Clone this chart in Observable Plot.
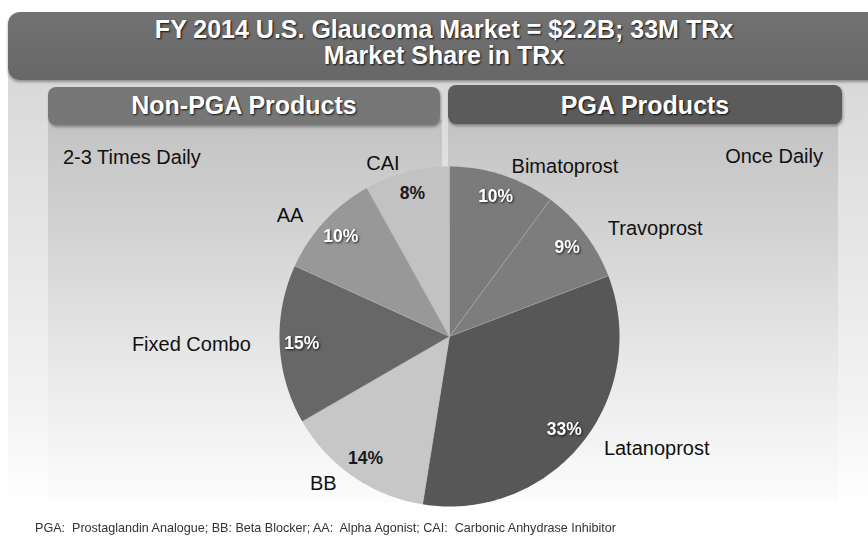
<!DOCTYPE html>
<html>
<head>
<meta charset="utf-8">
<script src="https://cdn.jsdelivr.net/npm/d3@7"></script>
<script src="https://cdn.jsdelivr.net/npm/@observablehq/plot@0.6"></script>
<style>
  html, body { margin: 0; padding: 0; background: #fff; }
  #stage { position: relative; width: 868px; height: 536px; overflow: hidden; background: #fff;
           font-family: "Liberation Sans", Arial, sans-serif; }
  .abs { position: absolute; }
  #outer { left: 8px; top: 70px; width: 880px; height: 432px;
           background: linear-gradient(#d8d8d8 0%, #e6e6e6 40%, #f4f4f4 80%, #ffffff 100%); }
  .panel { top: 120px; height: 382px;
           background: linear-gradient(#c3c3c3 0%, #d3d3d3 30%, #e6e6e6 60%, #f7f7f7 90%, #fcfcfc 100%); }
  #panelL { left: 48px; width: 394px; }
  #panelR { left: 448px; width: 390px; }
  #titlebar { left: 8px; top: 12px; width: 890px; height: 68px; border-radius: 12px;
              background: linear-gradient(#727272, #676767); box-shadow: 0 2px 3px rgba(0,0,0,0.35); }
  .ttl { position: absolute; left: 0; width: 888px; text-align: center; color: #fff;
         font-weight: bold; font-size: 25px; line-height: 25px; white-space: nowrap;
         text-shadow: 1px 1px 2px rgba(0,0,0,0.85); }
  .hdr { border-radius: 8px; box-shadow: 1px 2px 3px rgba(0,0,0,0.35); }
  #hdrL { left: 48px; top: 87px; width: 392px; height: 38px; background: #777; }
  #hdrR { left: 448px; top: 85px; width: 394px; height: 39px; background: #5b5b5b; }
  .hdrtxt { position: absolute; top: 93px; text-align: center; color: #fff; font-weight: bold;
            font-size: 25px; line-height: 25px; white-space: nowrap;
            text-shadow: 1px 1px 2px rgba(0,0,0,0.85); }
  .freq { position: absolute; top: 147px; font-size: 20px; line-height: 20px; color: #111; white-space: nowrap; }
  #foot { position: absolute; left: 35px; top: 521px; font-size: 13px; line-height: 13px; color: #333;
          font-family: "Liberation Sans Narrow", "Arial Narrow", "Liberation Sans", Arial, sans-serif;
          white-space: pre; transform-origin: 0 0; }
  #plotwrap { position: absolute; left: 0; top: 0; }
  .pct-shadow text { filter: drop-shadow(1px 1px 1px rgba(0,0,0,0.75)); }
</style>
</head>
<body>
<div id="stage">
  <div id="outer" class="abs"></div>
  <div id="panelL" class="abs panel"></div>
  <div id="panelR" class="abs panel"></div>
  <div id="titlebar" class="abs"></div>
  <div id="hdrL" class="abs hdr"></div>
  <div id="hdrR" class="abs hdr"></div>
  <div id="plotwrap"></div>
</div>
<script>
// ---------- data ----------
const titleLines = ["FY 2014 U.S. Glaucoma Market = $2.2B; 33M TRx", "Market Share in TRx"];
const groupHeaders = ["Non-PGA Products", "PGA Products"];
const frequencies = ["2-3 Times Daily", "Once Daily"];
const categories = ["Bimatoprost", "Travoprost", "Latanoprost", "BB", "Fixed Combo", "AA", "CAI"];
const shares = [10, 9, 33, 14, 15, 10, 8];
const footnote = "PGA:  Prostaglandin Analogue; BB: Beta Blocker; AA:  Alpha Agonist; CAI:  Carbonic Anhydrase Inhibitor";

// ---------- styles ----------
const sliceColors = {
  "Bimatoprost": "#7b7b7b",
  "Travoprost": "#7d7d7d",
  "Latanoprost": "#575757",
  "BB": "#c7c7c7",
  "Fixed Combo": "#676767",
  "AA": "#989898",
  "CAI": "#c2c2c2"
};

// ---------- html text ----------
const stage = document.getElementById("stage");
function addDiv(cls, text, css) {
  const d = document.createElement("div");
  d.className = cls;
  d.textContent = text;
  Object.assign(d.style, css || {});
  stage.appendChild(d);
  return d;
}
addDiv("ttl", titleLines[0], { top: "17px" });
addDiv("ttl", titleLines[1], { top: "43px" });
addDiv("hdrtxt", groupHeaders[0], { left: "48px", width: "392px" });
addDiv("hdrtxt", groupHeaders[1], { left: "448px", width: "394px" });
addDiv("freq", frequencies[0], { left: "63px" });
addDiv("freq", frequencies[1], { right: "45px", top: "146px" });
const foot = addDiv("", footnote);
foot.id = "foot";
const fw = foot.getBoundingClientRect().width;
foot.style.transform = `scaleX(${581 / fw})`;

// ---------- pie geometry (derived from data) ----------
const total = d3.sum(shares);
let cum = 0;
const slices = categories.map((name, i) => {
  const a0 = cum / total * 2 * Math.PI;
  cum += shares[i];
  const a1 = cum / total * 2 * Math.PI;
  return { name, share: shares[i], a0, a1, mid: (a0 + a1) / 2, color: sliceColors[name] };
});
const poly = slices.flatMap(s => {
  const n = Math.max(2, Math.ceil((s.a1 - s.a0) / (Math.PI / 180)));
  const pts = [{ name: s.name, color: s.color, x: 0, y: 0 }];
  for (let k = 0; k <= n; k++) {
    const a = s.a0 + (s.a1 - s.a0) * k / n;
    pts.push({ name: s.name, color: s.color, x: Math.sin(a), y: Math.cos(a) });
  }
  pts.push({ name: s.name, color: s.color, x: 0, y: 0 });
  return pts;
});

const pctR = 0.87, lblRx = 1.17, lblRy = 1.05;
const isLight = c => d3.hsl(c).l > 0.65;
const rightLabels = slices.filter(s => Math.sin(s.mid) >= 0);
const leftLabels = slices.filter(s => Math.sin(s.mid) < 0);

// pixel layout: centre (449,336), radius 170 px in an 868x536 svg
const W = 868, H = 536, cx = 449, cy = 336, R = 170;

const chart = Plot.plot({
  width: W, height: H, margin: 0,
  x: { domain: [-cx / R, (W - cx) / R], axis: null },
  y: { domain: [-(H - cy) / R, cy / R], axis: null },
  color: { type: "identity" },
  style: { background: "transparent", overflow: "visible" },
  marks: [
    Plot.line(poly, { x: "x", y: "y", z: "name", fill: "color", stroke: "none", curve: "linear" }),
    Plot.link(slices, { x1: 0, y1: 0, x2: s => Math.sin(s.a0), y2: s => Math.cos(s.a0),
                        stroke: "#b5b5b5", strokeOpacity: 0.5, strokeWidth: 1 }),
    Plot.text(slices.filter(s => !isLight(s.color)), {
      x: s => pctR * Math.sin(s.mid), y: s => pctR * Math.cos(s.mid),
      text: s => s.share + "%", fill: "#fff", fontSize: 17.5, fontWeight: "bold",
      fontFamily: "Liberation Sans, Arial, sans-serif", className: "pct-shadow"
    }),
    Plot.text(slices.filter(s => isLight(s.color)), {
      x: s => pctR * Math.sin(s.mid), y: s => pctR * Math.cos(s.mid),
      text: s => s.share + "%", fill: "#1a1a1a", fontSize: 17.5, fontWeight: "bold",
      fontFamily: "Liberation Sans, Arial, sans-serif"
    }),
    Plot.text(rightLabels, {
      x: s => lblRx * Math.sin(s.mid), y: s => lblRy * Math.cos(s.mid),
      text: "name", textAnchor: "start", fill: "#111", fontSize: 20,
      fontFamily: "Liberation Sans, Arial, sans-serif"
    }),
    Plot.text(leftLabels, {
      x: s => lblRx * Math.sin(s.mid), y: s => lblRy * Math.cos(s.mid),
      text: "name", textAnchor: "end", fill: "#111", fontSize: 20,
      fontFamily: "Liberation Sans, Arial, sans-serif"
    })
  ]
});
document.getElementById("plotwrap").appendChild(chart);
</script>
</body>
</html>
